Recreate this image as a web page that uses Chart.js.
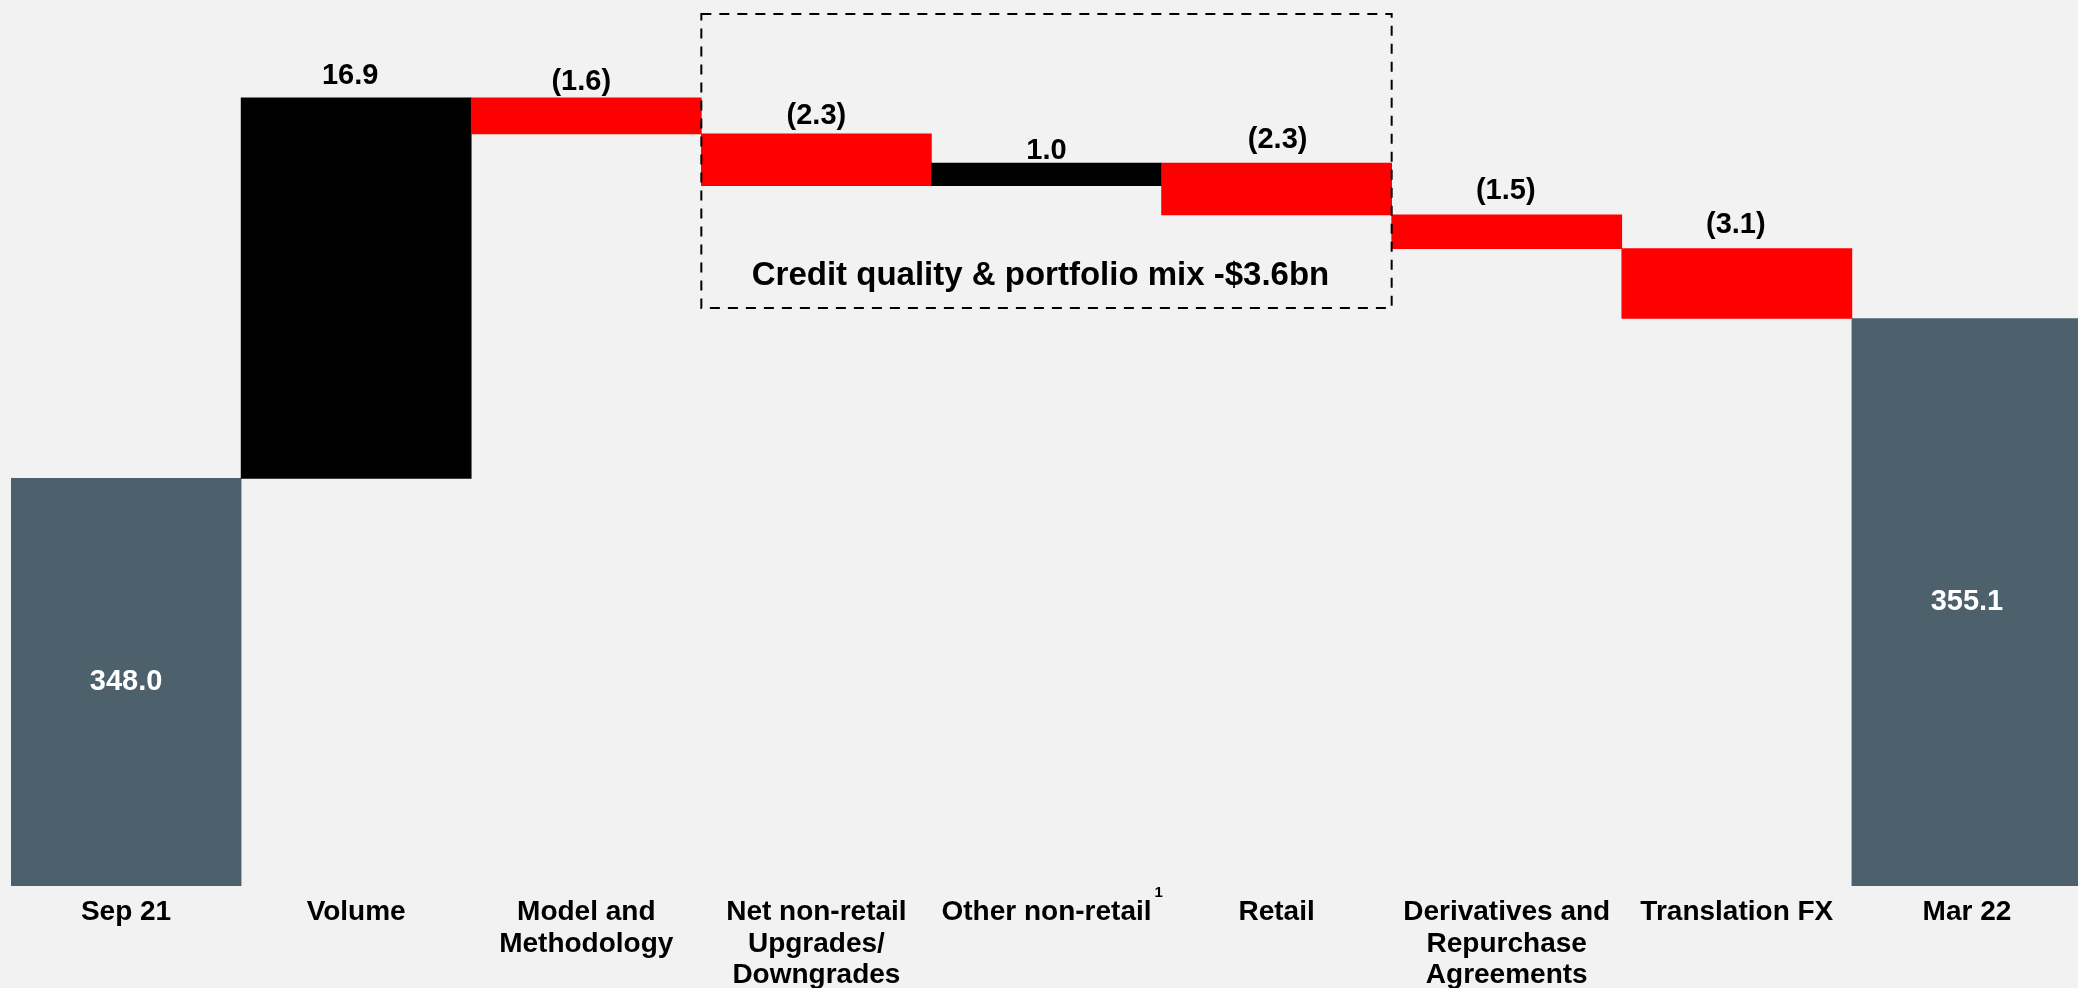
<!DOCTYPE html>
<html>
<head>
<meta charset="utf-8">
<script src="https://cdn.jsdelivr.net/npm/chart.js@4.4.1/dist/chart.umd.min.js"></script>
<style>
html, body { margin: 0; padding: 0; background: #f2f2f2; overflow: hidden; }
#wrap { width: 2082px; height: 988px; }
</style>
</head>
<body>
<div id="wrap"><canvas id="c" width="2082" height="988"></canvas></div>
<script>
// ---- data ----
const categories = [
  'Sep 21',
  'Volume',
  ['Model and', 'Methodology'],
  ['Net non-retail', 'Upgrades/', 'Downgrades'],
  'Other non-retail',
  'Retail',
  ['Derivatives and', 'Repurchase', 'Agreements'],
  'Translation FX',
  'Mar 22'
];
const values = [348.0, 16.9, -1.6, -2.3, 1.0, -2.3, -1.5, -3.1, 355.1];
const kinds = ['total', 'delta', 'delta', 'delta', 'delta', 'delta', 'delta', 'delta', 'total'];
const footnoteIndex = 4;
const footnoteMark = '1';
const bracketLabel = 'Credit quality & portfolio mix -$3.6bn';
const bracketFrom = 3;
const bracketTo = 5;

// ---- styling / layout (not data) ----
const FONT = '"Liberation Sans", Arial, Helvetica, sans-serif';
const COL_TOTAL = '#4c616c', COL_POS = '#000000', COL_NEG = '#ff0000';
const labelGap = [0, 14, 8, 10, 4, 15, 16, 16, 0];
const labelShift = [0, -6, -5, 0, 0, 1, -1, -1, 0];
const bracketTopVal = 368.62, bracketBottomVal = 355.57;

// floating ranges for waterfall
let run = 0;
const ranges = values.map((v, i) => {
  if (kinds[i] === 'total') { run = v; return [0, v]; }
  const s = run; run = Math.round((run + v) * 10) / 10; return [s, run];
});
const colors = values.map((v, i) => kinds[i] === 'total' ? COL_TOTAL : (v >= 0 ? COL_POS : COL_NEG));
const fmt = i => {
  const v = values[i];
  if (kinds[i] === 'total') return v.toFixed(1);
  return v < 0 ? '(' + Math.abs(v).toFixed(1) + ')' : v.toFixed(1);
};

const bgPlugin = {
  id: 'bg',
  beforeDraw(c) {
    const ctx = c.ctx; ctx.save(); ctx.fillStyle = '#f2f2f2';
    ctx.fillRect(0, 0, c.width, c.height); ctx.restore();
  }
};

const valuePlugin = {
  id: 'vals',
  afterDatasetsDraw(c) {
    const ctx = c.ctx, meta = c.getDatasetMeta(0);
    ctx.save();
    ctx.textAlign = 'center';
    ctx.font = 'bold 29px ' + FONT;
    meta.data.forEach((el, i) => {
      const top = Math.min(el.y, el.base);
      const bot = Math.min(Math.max(el.y, el.base), c.chartArea.bottom);
      if (kinds[i] === 'total') {
        ctx.fillStyle = '#ffffff'; ctx.textBaseline = 'middle';
        ctx.fillText(fmt(i), el.x + labelShift[i], (top + bot) / 2);
      } else {
        ctx.fillStyle = '#000000'; ctx.textBaseline = 'alphabetic';
        ctx.fillText(fmt(i), el.x + labelShift[i], top - labelGap[i]);
      }
    });
    ctx.restore();
  }
};

const annoPlugin = {
  id: 'anno',
  afterDraw(c) {
    const ctx = c.ctx, xs = c.scales.x, ys = c.scales.y;
    const half = (xs.getPixelForValue(1) - xs.getPixelForValue(0)) / 2;
    const l = xs.getPixelForValue(bracketFrom) - half;
    const r = xs.getPixelForValue(bracketTo) + half;
    const t = ys.getPixelForValue(bracketTopVal);
    const b = ys.getPixelForValue(bracketBottomVal);
    ctx.save();
    ctx.setLineDash([10, 8]);
    ctx.lineWidth = 2;
    ctx.strokeStyle = '#000000';
    ctx.strokeRect(l, t, r - l, b - t);
    ctx.setLineDash([]);
    ctx.fillStyle = '#000000';
    ctx.font = 'bold 33px ' + FONT;
    ctx.textAlign = 'center';
    ctx.textBaseline = 'alphabetic';
    ctx.fillText(bracketLabel, (l + r) / 2 - 6, b - 23);
    // footnote marker on tick label
    ctx.font = 'bold 28px ' + FONT;
    const lbl = categories[footnoteIndex];
    const w = ctx.measureText(Array.isArray(lbl) ? lbl[0] : lbl).width;
    ctx.font = 'bold 15px ' + FONT;
    ctx.textAlign = 'left';
    ctx.fillText(footnoteMark, xs.getPixelForValue(footnoteIndex) + w / 2 + 3, xs.top + 11);
    ctx.restore();
  }
};

new Chart(document.getElementById('c'), {
  type: 'bar',
  data: {
    labels: categories,
    datasets: [{
      data: ranges,
      backgroundColor: colors,
      borderWidth: 0,
      barPercentage: 1,
      categoryPercentage: 1
    }]
  },
  options: {
    responsive: false,
    devicePixelRatio: 1,
    animation: false,
    layout: { padding: { left: 11, right: 0, top: 28, bottom: 0 } },
    plugins: { legend: { display: false }, tooltip: { enabled: false } },
    scales: {
      x: {
        grid: { display: false, drawTicks: false },
        border: { display: false },
        ticks: {
          color: '#000000',
          font: { family: FONT, size: 28, weight: 'bold', lineHeight: 1.125 },
          padding: 11,
          maxRotation: 0,
          autoSkip: false
        },
        afterFit(axis) { axis.height = 102; }
      },
      y: {
        display: false,
        min: 329.9,
        max: 368
      }
    }
  },
  plugins: [bgPlugin, valuePlugin, annoPlugin]
});
</script>
</body>
</html>
